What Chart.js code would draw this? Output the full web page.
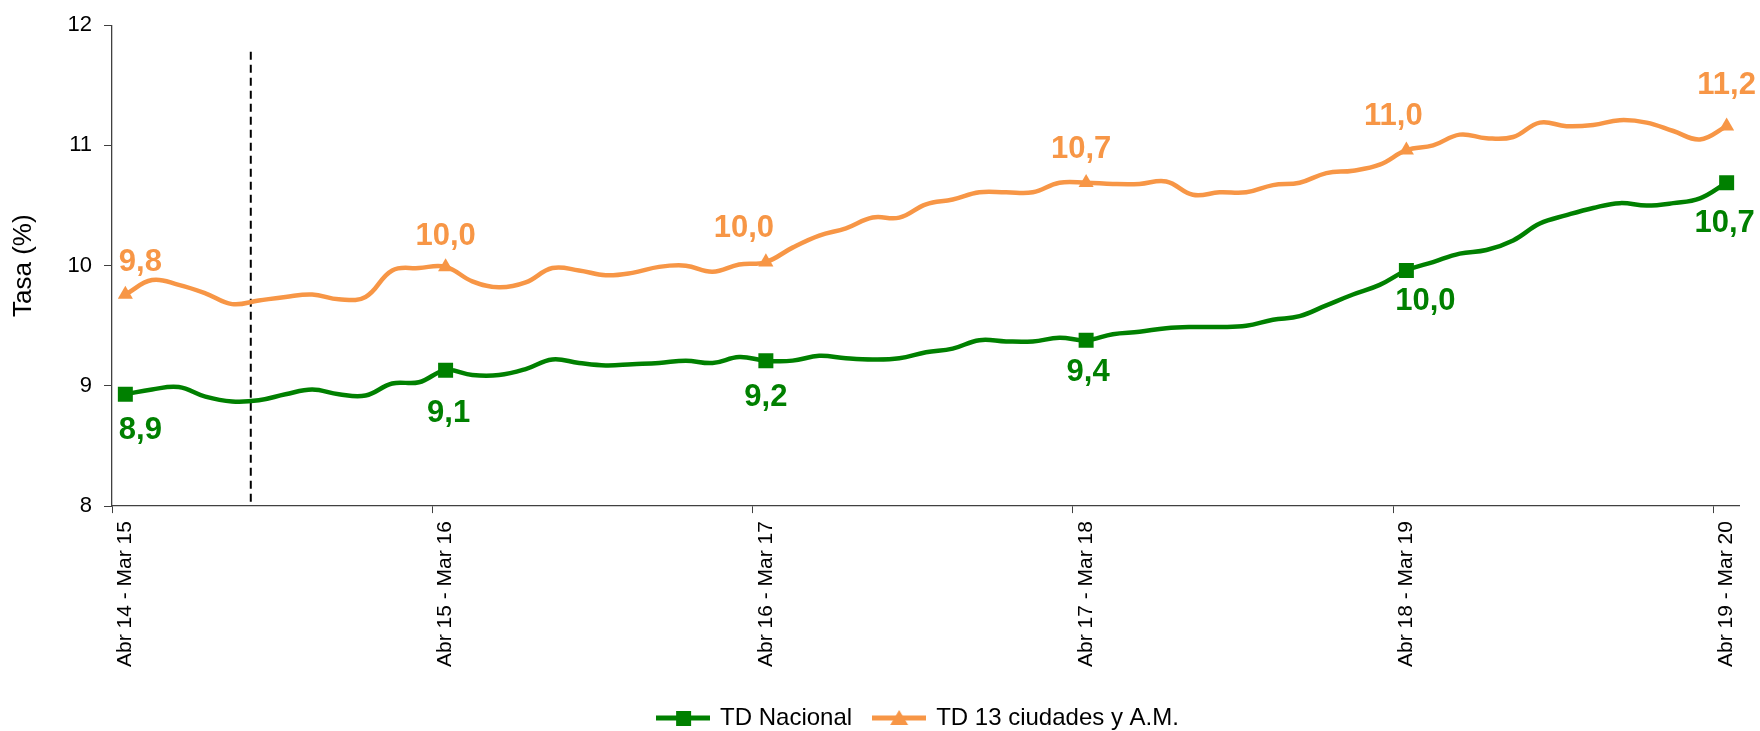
<!DOCTYPE html>
<html>
<head>
<meta charset="utf-8">
<script src="https://cdn.jsdelivr.net/npm/chart.js@4.4.1/dist/chart.umd.min.js"></script>
<style>
    html, body { margin: 0; padding: 0; background: #ffffff; }
    #wrap { width: 1760px; height: 731px; }
</style>
</head>
<body>
<div id="wrap"><canvas id="chart" width="1760" height="731"></canvas></div>
<script>
// Data
const categories = [
    "Abr 14 - Mar 15", "May 14 - Abr 15", "Jun 14 - May 15", "Jul 14 - Jun 15", "Ago 14 - Jul 15", "Sep 14 - Ago 15",
    "Oct 14 - Sep 15", "Nov 14 - Oct 15", "Dic 14 - Nov 15", "Ene 15 - Dic 15", "Feb 15 - Ene 16", "Mar 15 - Feb 16",
    "Abr 15 - Mar 16", "May 15 - Abr 16", "Jun 15 - May 16", "Jul 15 - Jun 16", "Ago 15 - Jul 16", "Sep 15 - Ago 16",
    "Oct 15 - Sep 16", "Nov 15 - Oct 16", "Dic 15 - Nov 16", "Ene 16 - Dic 16", "Feb 16 - Ene 17", "Mar 16 - Feb 17",
    "Abr 16 - Mar 17", "May 16 - Abr 17", "Jun 16 - May 17", "Jul 16 - Jun 17", "Ago 16 - Jul 17", "Sep 16 - Ago 17",
    "Oct 16 - Sep 17", "Nov 16 - Oct 17", "Dic 16 - Nov 17", "Ene 17 - Dic 17", "Feb 17 - Ene 18", "Mar 17 - Feb 18",
    "Abr 17 - Mar 18", "May 17 - Abr 18", "Jun 17 - May 18", "Jul 17 - Jun 18", "Ago 17 - Jul 18", "Sep 17 - Ago 18",
    "Oct 17 - Sep 18", "Nov 17 - Oct 18", "Dic 17 - Nov 18", "Ene 18 - Dic 18", "Feb 18 - Ene 19", "Mar 18 - Feb 19",
    "Abr 18 - Mar 19", "May 18 - Abr 19", "Jun 18 - May 19", "Jul 18 - Jun 19", "Ago 18 - Jul 19", "Sep 18 - Ago 19",
    "Oct 18 - Sep 19", "Nov 18 - Oct 19", "Dic 18 - Nov 19", "Ene 19 - Dic 19", "Feb 19 - Ene 20", "Mar 19 - Feb 20",
    "Abr 19 - Mar 20"
];

const tdNacional = [
    8.93, 8.97, 8.99, 8.91, 8.87, 8.88, 8.93, 8.97, 8.93, 8.92, 9.02, 9.03,
    9.13, 9.09, 9.09, 9.14, 9.22, 9.19, 9.17, 9.18, 9.19, 9.21, 9.19, 9.24,
    9.21, 9.21, 9.25, 9.23, 9.22, 9.23, 9.28, 9.31, 9.38, 9.37, 9.37, 9.40,
    9.38, 9.43, 9.45, 9.48, 9.49, 9.49, 9.50, 9.55, 9.58, 9.67, 9.76, 9.84,
    9.96, 10.03, 10.10, 10.13, 10.21, 10.35, 10.42, 10.48, 10.52, 10.50, 10.52, 10.56,
    10.69
];

const td13Ciudades = [
    9.76, 9.88, 9.84, 9.77, 9.68, 9.71, 9.74, 9.76, 9.72, 9.74, 9.96, 9.98,
    9.99, 9.87, 9.82, 9.86, 9.98, 9.96, 9.92, 9.94, 9.99, 10.00, 9.95, 10.01,
    10.03, 10.15, 10.25, 10.31, 10.40, 10.40, 10.51, 10.55, 10.61, 10.61, 10.61, 10.69,
    10.69, 10.68, 10.68, 10.70, 10.59, 10.61, 10.61, 10.67, 10.69, 10.77, 10.79, 10.84,
    10.96, 11.00, 11.09, 11.06, 11.07, 11.19, 11.16, 11.17, 11.21, 11.19, 11.12, 11.05,
    11.16
];

const seriesNames = ["TD Nacional", "TD 13 ciudades y A.M."];
const yTicks = [8, 9, 10, 11, 12];
const labelEvery = 12;          // tick labels, markers and value labels every 12 months
const dividerAt = 4.7;          // dashed divider, in category units
const dividerTop = 11.78;

// Styles
const GREEN = '#008000';
const ORANGE = '#F79646';
const AXIS = '#404040';
Chart.defaults.font.family = "'Liberation Sans', Arial, sans-serif";
Chart.defaults.color = '#000000';

// pixel nudges for the value labels (one per marker)
const labelShift = [
    { dx: [15, 3, 0, 2, 19, -2], dy: [36, 43, 37, 32, 31, 41] },
    { dx: [15, 0, -22, -5, -13, 0], dy: [-32, -30, -34, -33, -34, -41] }
];

function fmt(v) {
    return v.toFixed(1).replace('.', ',');
}

// legend symbols: line with marker
function legendSymbol(color, shape) {
    const c = document.createElement('canvas');
    c.width = 54; c.height = 18;
    const g = c.getContext('2d');
    g.strokeStyle = color;
    g.lineWidth = 5;
    g.beginPath(); g.moveTo(0, 9); g.lineTo(54, 9); g.stroke();
    g.fillStyle = color;
    if (shape === 'rect') {
        g.fillRect(20, 2, 15, 15);
    } else {
        g.beginPath(); g.moveTo(27, 1); g.lineTo(36, 16); g.lineTo(18, 16); g.closePath(); g.fill();
    }
    return c;
}
const legendSymbols = [legendSymbol(GREEN, 'rect'), legendSymbol(ORANGE, 'tri')];

const dividerPlugin = {
    id: 'divider',
    beforeDatasetsDraw(chart) {
        const x = chart.scales.x.getPixelForValue(dividerAt);
        const top = chart.scales.y.getPixelForValue(dividerTop);
        const ctx = chart.ctx;
        ctx.save();
        ctx.strokeStyle = '#000000';
        ctx.lineWidth = 2;
        ctx.setLineDash([8, 5]);
        ctx.beginPath();
        ctx.moveTo(x, top);
        ctx.lineTo(x, chart.chartArea.bottom);
        ctx.stroke();
        ctx.restore();
    }
};

const valueLabelPlugin = {
    id: 'valueLabels',
    afterDatasetsDraw(chart) {
        const ctx = chart.ctx;
        ctx.save();
        ctx.font = "bold 31px 'Liberation Sans', Arial, sans-serif";
        ctx.textAlign = 'center';
        ctx.textBaseline = 'middle';
        chart.data.datasets.forEach((ds, d) => {
            const meta = chart.getDatasetMeta(d);
            let k = 0;
            ds.data.forEach((v, i) => {
                if (i % labelEvery !== 0) return;
                const pt = meta.data[i];
                ctx.fillStyle = ds.borderColor;
                ctx.fillText(fmt(v), pt.x + labelShift[d].dx[k], pt.y + labelShift[d].dy[k]);
                k++;
            });
        });
        ctx.restore();
    }
};

// legend sits a bit right of centre and lower in the original
const legendShift = {
    id: 'legendShift',
    afterLayout(chart) {
        const lg = chart.legend;
        if (!lg) return;
        lg.left += 48; lg.right += 48;
        lg.top += 9; lg.bottom += 9;
    }
};

const ctx = document.getElementById('chart').getContext('2d');
new Chart(ctx, {
    type: 'line',
    data: {
        labels: categories,
        datasets: [{
            label: seriesNames[0],
            data: tdNacional,
            borderColor: GREEN,
            backgroundColor: GREEN,
            borderWidth: 4.5,
            tension: 0.4,
            pointStyle: 'rect',
            pointRadius: (c) => c.dataIndex % labelEvery === 0 ? 10.6 : 0,
            pointBorderWidth: 0,
            pointBackgroundColor: GREEN
        }, {
            label: seriesNames[1],
            data: td13Ciudades,
            borderColor: ORANGE,
            backgroundColor: ORANGE,
            borderWidth: 4.5,
            tension: 0.4,
            pointStyle: 'triangle',
            pointRadius: (c) => c.dataIndex % labelEvery === 0 ? 8.7 : 0,
            pointBorderWidth: 0,
            pointBackgroundColor: ORANGE
        }]
    },
    options: {
        responsive: false,
        animation: false,
        devicePixelRatio: 1,
        layout: { padding: { top: 20, right: 19, left: 0, bottom: 0 } },
        scales: {
            x: {
                type: 'category',
                offset: true,
                grid: {
                    offset: true,
                    drawOnChartArea: false,
                    drawTicks: true,
                    tickLength: 7,
                    color: (c) => c.index % labelEvery === 0 ? AXIS : 'rgba(0,0,0,0)'
                },
                border: { display: true, color: AXIS, width: 1.3 },
                ticks: {
                    autoSkip: false,
                    minRotation: 90,
                    maxRotation: 90,
                    padding: 8,
                    color: '#000000',
                    font: { size: 21 },
                    callback: (v, i) => i % labelEvery === 0 ? categories[i] : ''
                }
            },
            y: {
                min: yTicks[0],
                max: yTicks[yTicks.length - 1],
                afterFit: (scale) => { scale.width = 112; },
                afterBuildTicks: (scale) => { scale.ticks = yTicks.map(v => ({ value: v })); },
                grid: {
                    drawOnChartArea: false,
                    drawTicks: true,
                    tickLength: 8,
                    color: AXIS
                },
                border: { display: true, color: AXIS, width: 1.3 },
                ticks: {
                    padding: 12,
                    color: '#000000',
                    font: { size: 22 }
                },
                title: {
                    display: true,
                    text: 'Tasa (%)',
                    color: '#000000',
                    font: { size: 26 },
                    padding: { top: 8, bottom: 0 }
                }
            }
        },
        plugins: {
            legend: {
                position: 'bottom',
                labels: {
                    usePointStyle: true,
                    pointStyleWidth: 50,
                    padding: 22,
                    color: '#000000',
                    font: { size: 24 },
                    generateLabels: (chart) => {
                        const items = Chart.defaults.plugins.legend.labels.generateLabels(chart);
                        items.forEach((it, i) => { it.pointStyle = legendSymbols[i]; });
                        return items;
                    }
                }
            },
            tooltip: { enabled: false }
        }
    },
    plugins: [dividerPlugin, valueLabelPlugin, legendShift]
});
</script>
</body>
</html>
